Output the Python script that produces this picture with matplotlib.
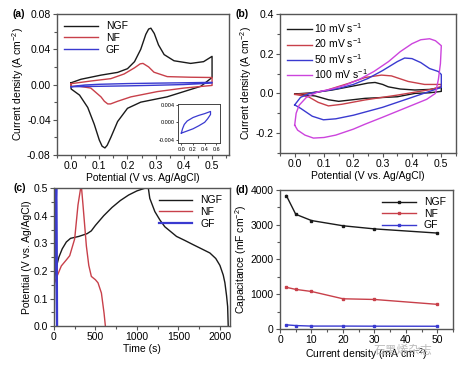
import numpy as np
import matplotlib
matplotlib.use('Agg')
import matplotlib.pyplot as plt
from matplotlib.ticker import MultipleLocator, FormatStrFormatter

plt.rcParams['font.family'] = ['Liberation Sans', 'DejaVu Sans']
plt.rcParams['font.size'] = 7.5
plt.rcParams['mathtext.default'] = 'regular'

# colours
c_ngf = '#1a1a1a'
c_nf  = '#c8404a'
c_gf  = '#3a3ad0'
c_100 = '#cc44dd'

# ---- (a) CV at fixed scan rate, three electrodes ----
ngf_a_x = [0.0, 0.035, 0.106, 0.165, 0.2, 0.225, 0.247, 0.265, 0.275, 0.283, 0.295, 0.31, 0.33, 0.365, 0.424, 0.47, 0.5,
           0.5, 0.46, 0.40, 0.34, 0.247, 0.2, 0.165, 0.141, 0.128, 0.12, 0.11, 0.1, 0.082, 0.059, 0.03, 0.0, 0.0]
ngf_a_y = [0.002, 0.006, 0.0107, 0.0138, 0.018, 0.026, 0.04, 0.057, 0.063, 0.064, 0.058, 0.045, 0.034, 0.027, 0.024, 0.026, 0.032,
           0.008, -0.002, -0.008, -0.014, -0.02, -0.027, -0.042, -0.06, -0.069, -0.072, -0.07, -0.063, -0.045, -0.026, -0.012, -0.005, 0.002]
nf_a_x = [0.0, 0.07, 0.141, 0.188, 0.225, 0.245, 0.255, 0.275, 0.294, 0.341, 0.424, 0.5,
          0.5, 0.4, 0.306, 0.212, 0.165, 0.14, 0.13, 0.118, 0.106, 0.07, 0.03, 0.0, 0.0]
nf_a_y = [0.001, 0.004, 0.0067, 0.012, 0.019, 0.0235, 0.024, 0.02, 0.014, 0.009, 0.0083, 0.008,
          -0.001, -0.004, -0.008, -0.014, -0.019, -0.022, -0.022, -0.019, -0.014, -0.004, -0.002, -0.002, 0.001]
gf_a_x = [0.0, 0.02, 0.05, 0.1, 0.2, 0.3, 0.4, 0.5, 0.5, 0.45, 0.4, 0.3, 0.2, 0.1, 0.0]
gf_a_y = [-0.0025, -0.0015, -0.0005, 0.0003, 0.0011, 0.0016, 0.002, 0.0025, 0.0018, 0.0008, 0.0, -0.0008, -0.0015, -0.002, -0.0025]

# ---- (b) CV of NGF at different scan rates ----
rate_labels = ['10 mV s$^{-1}$', '20 mV s$^{-1}$', '50 mV s$^{-1}$', '100 mV s$^{-1}$']
b10_x = [0.0, 0.05, 0.127, 0.217, 0.25, 0.274, 0.3, 0.319, 0.36, 0.41, 0.46, 0.5,
         0.5, 0.46, 0.41, 0.35, 0.24, 0.15, 0.115, 0.07, 0.014, 0.0]
b10_y = [-0.003, 0.002, 0.0167, 0.042, 0.052, 0.055, 0.045, 0.033, 0.022, 0.017, 0.02, 0.03,
         0.01, 0.003, 0.0, -0.017, -0.025, -0.04, -0.032, -0.013, -0.005, -0.003]
b20_x = [0.0, 0.05, 0.1, 0.183, 0.24, 0.296, 0.33, 0.387, 0.443, 0.5,
         0.5, 0.466, 0.353, 0.24, 0.16, 0.115, 0.08, 0.047, 0.0]
b20_y = [-0.005, 0.0, 0.012, 0.05, 0.08, 0.092, 0.088, 0.06, 0.045, 0.045,
         0.035, 0.02, -0.008, -0.033, -0.055, -0.063, -0.045, -0.017, -0.005]
b50_x = [0.0, 0.02, 0.05, 0.1, 0.15, 0.2, 0.25, 0.3, 0.35, 0.375, 0.4, 0.43, 0.46, 0.49, 0.5,
         0.5, 0.46, 0.4, 0.3, 0.2, 0.14, 0.098, 0.06, 0.02, 0.0]
b50_y = [-0.058, -0.02, 0.0, 0.012, 0.025, 0.045, 0.075, 0.115, 0.16, 0.178, 0.175, 0.155, 0.125, 0.11, 0.095,
         0.03, 0.01, -0.02, -0.07, -0.11, -0.128, -0.133, -0.115, -0.075, -0.058]
b100_x = [0.0, 0.005, 0.015, 0.04, 0.08, 0.12, 0.17, 0.22, 0.27, 0.32, 0.36, 0.4, 0.43, 0.46, 0.48, 0.5,
          0.497, 0.49, 0.48, 0.45, 0.4, 0.35, 0.3, 0.24, 0.2, 0.14, 0.1, 0.064, 0.035, 0.01, 0.0]
b100_y = [-0.16, -0.1, -0.06, -0.02, 0.008, 0.02, 0.04, 0.07, 0.11, 0.16, 0.21, 0.25, 0.27, 0.275, 0.265, 0.24,
          0.15, 0.07, 0.0, -0.03, -0.06, -0.09, -0.12, -0.155, -0.18, -0.21, -0.222, -0.225, -0.21, -0.185, -0.16]

# ---- (c) galvanostatic charge/discharge ----
ngf_c_t = [0, 10, 30, 60, 100, 150, 200, 300, 400, 450, 500, 600, 700, 800, 900, 1000, 1100, 1135,
           1155, 1216, 1276, 1336, 1437, 1477, 1580, 1678, 1779, 1879, 1950, 2000, 2040, 2060, 2080, 2093, 2100]
ngf_c_v = [0.16, 0.18, 0.215, 0.25, 0.28, 0.305, 0.318, 0.325, 0.335, 0.345, 0.365, 0.40, 0.43, 0.455, 0.475, 0.49, 0.5, 0.505,
           0.463, 0.415, 0.385, 0.36, 0.335, 0.325, 0.31, 0.295, 0.28, 0.265, 0.245, 0.22, 0.185, 0.157, 0.11, 0.071, 0.0]
nf_c_t = [0, 30, 89, 150, 190, 250, 290, 322, 330, 350, 391, 420, 451, 500, 531, 572, 604, 620]
nf_c_v = [0.15, 0.175, 0.218, 0.24, 0.255, 0.316, 0.439, 0.5, 0.51, 0.44, 0.29, 0.22, 0.18, 0.168, 0.157, 0.12, 0.047, 0.0]
gf_c_t = [0, 5, 12, 22, 28, 31, 34, 36, 38]
gf_c_v = [0.0, 0.15, 0.3, 0.45, 0.5, 0.45, 0.3, 0.15, 0.0]

# ---- (d) areal capacitance vs current density ----
cur_dens = [2, 5, 10, 20, 30, 50]
cap_ngf = [3840, 3300, 3120, 2970, 2880, 2760]
cap_nf  = [1200, 1140, 1080, 870, 850, 710]
cap_gf  = [120, 100, 85, 85, 82, 80]

fig = plt.figure(figsize=(4.73, 3.66), dpi=100)

def style(ax):
  for s in ax.spines.values():
    s.set_color('#555555')
    s.set_linewidth(1.0)
  ax.tick_params(which='both', direction='out', color='#555555', length=3, width=0.8, pad=1.5)
  ax.tick_params(which='minor', length=2)

# (a)
ax0 = fig.add_axes([0.1205, 0.5765, 0.3636, 0.385])
ax0.plot(ngf_a_x, ngf_a_y, color=c_ngf, lw=1.0, label='NGF')
ax0.plot(nf_a_x, nf_a_y, color=c_nf, lw=1.0, label='NF')
ax0.plot(gf_a_x, gf_a_y, color=c_gf, lw=1.0, label='GF')
ax0.set_xlim(-0.05, 0.56)
ax0.set_ylim(-0.08, 0.08)
ax0.xaxis.set_major_locator(MultipleLocator(0.1))
ax0.xaxis.set_minor_locator(MultipleLocator(0.05))
ax0.yaxis.set_major_locator(MultipleLocator(0.04))
ax0.yaxis.set_minor_locator(MultipleLocator(0.02))
ax0.yaxis.set_major_formatter(FormatStrFormatter('%.2f'))
ax0.xaxis.set_major_formatter(FormatStrFormatter('%.1f'))
ax0.set_xlabel('Potential (V vs. Ag/AgCl)', labelpad=1)
ax0.set_ylabel('Current density (A cm$^{-2}$)', labelpad=1)
ax0.legend(loc='upper left', frameon=False, handlelength=3.2, borderaxespad=0.3, labelspacing=0.15, fontsize=7.5)
style(ax0)
ax0.text(-0.26, 1.0, '(a)', transform=ax0.transAxes, fontweight='bold', va='center', ha='left')

# inset in (a)
axi = fig.add_axes([0.376, 0.609, 0.0888, 0.1066])
axi.plot(gf_a_x, gf_a_y, color=c_gf, lw=0.9)
axi.set_xlim(-0.06, 0.66)
axi.set_ylim(-0.0048, 0.0042)
axi.xaxis.set_major_locator(MultipleLocator(0.2))
axi.yaxis.set_major_locator(MultipleLocator(0.004))
axi.xaxis.set_major_formatter(FormatStrFormatter('%.1f'))
axi.yaxis.set_major_formatter(FormatStrFormatter('%.3f'))
axi.tick_params(labelsize=4, length=1.5, width=0.5, pad=1)
for s in axi.spines.values():
  s.set_linewidth(0.7)
  s.set_color('#444444')

# (b)
ax1 = fig.add_axes([0.592, 0.582, 0.372, 0.380])
ax1.plot(b10_x, b10_y, color=c_ngf, lw=1.0, label=rate_labels[0])
ax1.plot(b20_x, b20_y, color=c_nf, lw=1.0, label=rate_labels[1])
ax1.plot(b50_x, b50_y, color=c_gf, lw=1.0, label=rate_labels[2])
ax1.plot(b100_x, b100_y, color=c_100, lw=1.0, label=rate_labels[3])
ax1.set_xlim(-0.05, 0.55)
ax1.set_ylim(-0.3, 0.4)
ax1.xaxis.set_major_locator(MultipleLocator(0.1))
ax1.xaxis.set_minor_locator(MultipleLocator(0.05))
ax1.yaxis.set_major_locator(MultipleLocator(0.2))
ax1.yaxis.set_minor_locator(MultipleLocator(0.1))
ax1.xaxis.set_major_formatter(FormatStrFormatter('%.1f'))
ax1.yaxis.set_major_formatter(FormatStrFormatter('%.1f'))
ax1.set_xlabel('Potential (V vs. Ag/AgCl)', labelpad=1)
ax1.set_ylabel('Current density (A cm$^{-2}$)', labelpad=1)
ax1.legend(loc='upper left', frameon=False, handlelength=2.4, handletextpad=0.2, borderaxespad=0.3, labelspacing=0.15, fontsize=7.5)
style(ax1)
ax1.text(-0.255, 1.0, '(b)', transform=ax1.transAxes, fontweight='bold', va='center', ha='left')

# (c)
ax2 = fig.add_axes([0.114, 0.109, 0.372, 0.377])
ax2.plot(ngf_c_t, ngf_c_v, color=c_ngf, lw=1.0, label='NGF')
ax2.plot(nf_c_t, nf_c_v, color=c_nf, lw=1.0, label='NF')
ax2.plot(gf_c_t, gf_c_v, color=c_gf, lw=1.6, label='GF')
ax2.set_xlim(0, 2120)
ax2.set_ylim(0, 0.5)
ax2.xaxis.set_major_locator(MultipleLocator(500))
ax2.xaxis.set_minor_locator(MultipleLocator(250))
ax2.yaxis.set_major_locator(MultipleLocator(0.1))
ax2.yaxis.set_minor_locator(MultipleLocator(0.05))
ax2.yaxis.set_major_formatter(FormatStrFormatter('%.1f'))
ax2.set_xlabel('Time (s)', labelpad=1)
ax2.set_ylabel('Potential (V vs. Ag/AgCl)', labelpad=1)
ax2.legend(loc='upper right', frameon=False, handlelength=3.2, borderaxespad=0.3, labelspacing=0.15, fontsize=7.5)
style(ax2)
ax2.text(-0.23, 1.0, '(c)', transform=ax2.transAxes, fontweight='bold', va='center', ha='left')

# (d)
ax3 = fig.add_axes([0.592, 0.101, 0.366, 0.380])
ax3.plot(cur_dens, cap_ngf, color=c_ngf, lw=1.0, marker='s', ms=2, label='NGF')
ax3.plot(cur_dens, cap_nf, color=c_nf, lw=1.0, marker='s', ms=2, label='NF')
ax3.plot(cur_dens, cap_gf, color=c_gf, lw=1.0, marker='s', ms=2, label='GF')
ax3.set_xlim(0, 55)
ax3.set_ylim(0, 4000)
ax3.xaxis.set_major_locator(MultipleLocator(10))
ax3.xaxis.set_minor_locator(MultipleLocator(5))
ax3.yaxis.set_major_locator(MultipleLocator(1000))
ax3.yaxis.set_minor_locator(MultipleLocator(500))
ax3.set_xlabel('Current density (mA cm$^{-2}$)', labelpad=1)
ax3.set_ylabel('Capacitance (mF cm$^{-2}$)', labelpad=1)
ax3.legend(loc='upper right', frameon=False, handlelength=3.2, borderaxespad=0.3, labelspacing=0.15, fontsize=7.5)
style(ax3)
ax3.text(-0.26, 1.0, '(d)', transform=ax3.transAxes, fontweight='bold', va='center', ha='left')

# watermark
fig.text(0.79, 0.025, '石墨烯杂志', family=['Noto Sans CJK SC', 'DejaVu Sans'], fontsize=8.5,
         color='#b0b0b0', alpha=0.85, ha='left', va='bottom')

fig.savefig('out.png', dpi=100)
